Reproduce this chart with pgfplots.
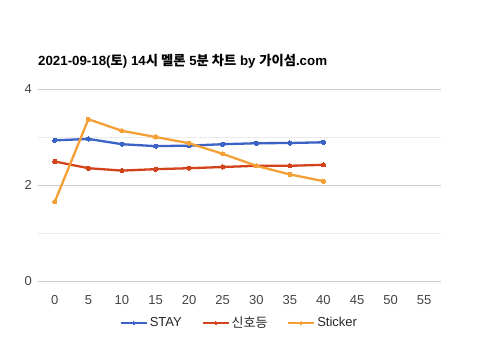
\documentclass[border=0pt]{standalone}
\usepackage{fontspec}
\setmainfont{Liberation Sans}
\newfontfamily\cjk{Noto Sans CJK KR}
\usepackage{pgfplots}
\pgfplotsset{compat=1.18}
\definecolor{cblue}{HTML}{3B63C6}
\definecolor{cred}{HTML}{D2431C}
\definecolor{corange}{HTML}{F5A036}
\definecolor{gmaj}{HTML}{CCCCCC}
\definecolor{gmin}{HTML}{EBEBEB}
\definecolor{tlab}{HTML}{444444}
\begin{document}
\begin{tikzpicture}[x=1pt,y=1pt]
\useasboundingbox[fill=white] (0,0) rectangle (480,357);
\node[anchor=base west, inner sep=0, font=\fontsize{13.3}{15}\selectfont\bfseries] at (38,291) {2021-09-18({\cjk\bfseries 토}) 14{\cjk\bfseries 시 멜론} 5{\cjk\bfseries 분 차트} by {\cjk\bfseries 가이섬}.com};
\begin{axis}[
  at={(38pt,76pt)}, anchor=south west,
  scale only axis, width=403pt, height=192pt,
  xmin=-2.5, xmax=57.5, ymin=0, ymax=4,
  xtick={0,5,...,55}, ytick={0,2,4}, minor ytick={1,3},
  axis line style={draw=none},
  major tick length=0pt, minor tick length=0pt,
  ymajorgrids, yminorgrids,
  major grid style={gmaj, line width=0.8pt},
  minor grid style={gmin, line width=0.8pt},
  tick label style={font=\fontsize{13}{15}\selectfont, text=tlab},
  /pgf/number format/assume math mode=true,
  yticklabel style={anchor=east, inner sep=0pt, xshift=-6pt},
  xticklabel style={anchor=north, inner sep=0pt, yshift=-14pt},
  legend columns=3,
  legend style={at={(axis description cs:0.5,0)}, anchor=center, yshift=-42pt,
    draw=none, fill=none, font=\fontsize{13}{15}\selectfont, text=black!85,
    /tikz/every even column/.append style={column sep=18pt}},
  legend image code/.code={\draw[#1, line width=1.8pt, mark size=1.6pt, mark repeat=2, mark phase=2] plot coordinates {(0pt,0pt)(13pt,0pt)(26pt,0pt)};},
  every axis plot/.append style={line width=2.3pt, mark=*, mark size=2.1pt},
]
\addplot[cblue, mark options={fill=cblue, draw=cblue, line width=0pt}] coordinates {(0,2.93)(5,2.96)(10,2.85)(15,2.81)(20,2.82)(25,2.85)(30,2.87)(35,2.875)(40,2.89)};
\addlegendentry{STAY}
\addplot[cred, mark options={fill=cred, draw=cred, line width=0pt}] coordinates {(0,2.49)(5,2.35)(10,2.30)(15,2.33)(20,2.35)(25,2.375)(30,2.40)(35,2.40)(40,2.42)};
\addlegendentry{\cjk 신호등}
\addplot[corange, mark options={fill=corange, draw=corange, line width=0pt}] coordinates {(0,1.65)(5,3.37)(10,3.13)(15,3.0)(20,2.87)(25,2.65)(30,2.40)(35,2.22)(40,2.08)};
\addlegendentry{Sticker}
\end{axis}
\end{tikzpicture}
\end{document}
